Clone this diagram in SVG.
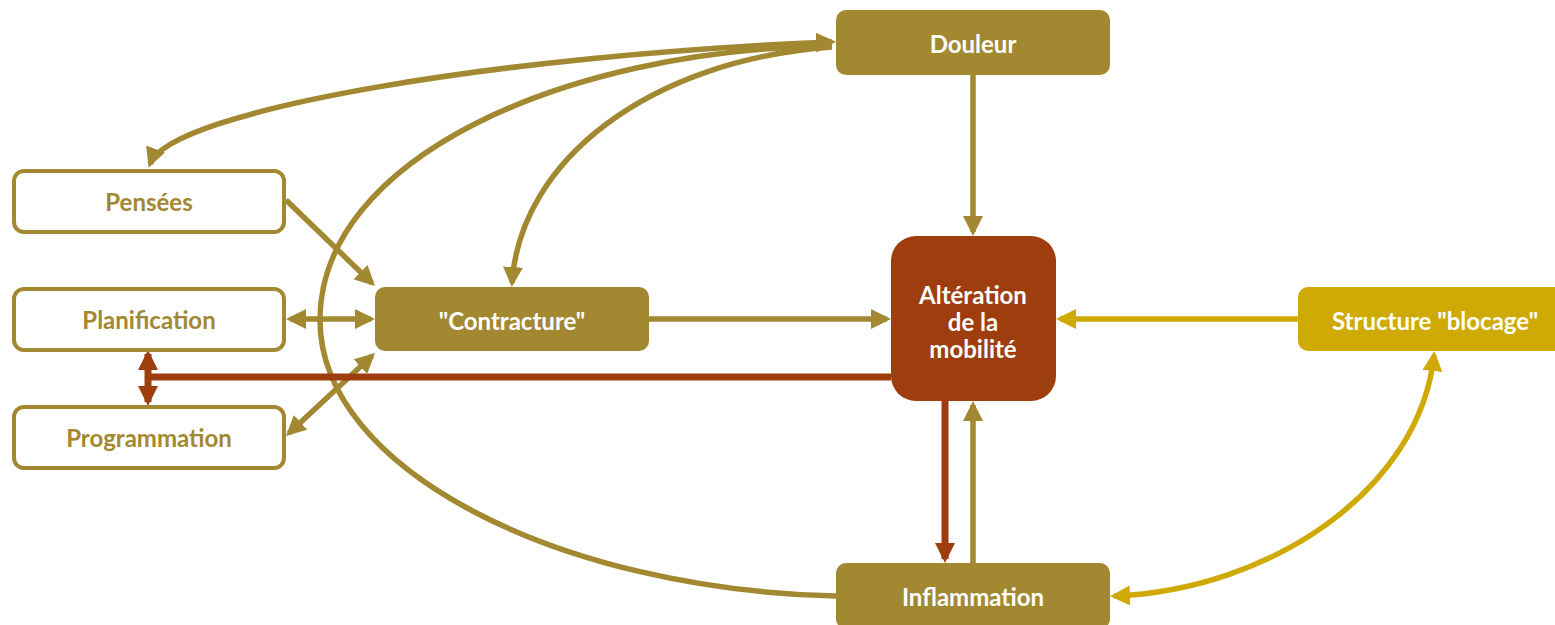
<svg xmlns="http://www.w3.org/2000/svg" width="1555" height="625" viewBox="0 0 1555 625">
<style>
.gold{fill:#A38832}
.outl{fill:#fff;stroke:#A38832;stroke-width:4}
.red{fill:#9E3D0E}
.yel{fill:#CFAA05}
text{font-family:Lato,"Liberation Sans",sans-serif;font-weight:bold;font-size:24px;text-anchor:middle;dominant-baseline:central}
.wt{fill:#fff}
.gt{fill:#A38832}
.cg{fill:none;stroke:#A38832;stroke-width:5.5}
.cr{fill:none;stroke:#9E3D0E;stroke-width:7}
.cy{fill:none;stroke:#CFAA05;stroke-width:5.5}
</style>
<defs>
<marker id="ag" viewBox="0 0 20 20" refX="16" refY="10" markerWidth="20" markerHeight="20" markerUnits="userSpaceOnUse" orient="auto-start-reverse"><path d="M0,0 L20,10 L0,20 z" fill="#A38832"/></marker>
<marker id="ar" viewBox="0 0 20 20" refX="16" refY="10" markerWidth="20" markerHeight="20" markerUnits="userSpaceOnUse" orient="auto-start-reverse"><path d="M0,0 L20,10 L0,20 z" fill="#9E3D0E"/></marker>
<marker id="ay" viewBox="0 0 20 20" refX="16" refY="10" markerWidth="20" markerHeight="20" markerUnits="userSpaceOnUse" orient="auto-start-reverse"><path d="M0,0 L20,10 L0,20 z" fill="#CFAA05"/></marker>
</defs>
<g id="connectors">
<path class="cg" d="M836 596 C560 590 320 470 320 320 C320 160 560 50 830 46"/>
<path class="cg" d="M150 164 C170 110 500 55 832 42" marker-start="url(#ag)" marker-end="url(#ag)"/>
<path class="cg" d="M832 47 C650 60 520 160 512 283" marker-end="url(#ag)"/>
<path class="cg" d="M286 200 L372.1 283.2" marker-end="url(#ag)"/>
<path class="cg" d="M290 319 L371 319" marker-start="url(#ag)" marker-end="url(#ag)"/>
<path class="cg" d="M288.9 433.3 L372.1 355.7" marker-start="url(#ag)" marker-end="url(#ag)"/>
<path class="cg" d="M649 319 L887 319" marker-end="url(#ag)"/>
<path class="cg" d="M973 75 L973 232" marker-end="url(#ag)"/>
<path class="cy" d="M1298 319 L1060 319" marker-end="url(#ay)"/>
<path class="cr" d="M891 377 L148 377"/>
<path class="cr" d="M148 354 L148 402" marker-start="url(#ar)" marker-end="url(#ar)"/>
<path class="cr" d="M945 401 L945 559" marker-end="url(#ar)"/>
<path class="cg" d="M973 563 L973 405" marker-end="url(#ag)"/>
<path class="cy" d="M1434 355 C1420 490 1270 590 1114 596" marker-start="url(#ay)" marker-end="url(#ay)"/>
</g>
<g id="douleur"><rect class="gold" x="836" y="10" width="274" height="65" rx="10"/><text class="wt" x="973" y="43">Douleur</text></g>
<g id="pensees"><rect class="outl" x="14" y="171" width="270" height="61" rx="10"/><text class="gt" x="149" y="201">Pensées</text></g>
<g id="planification"><rect class="outl" x="14" y="289" width="270" height="61" rx="10"/><text class="gt" x="149" y="319">Planification</text></g>
<g id="programmation"><rect class="outl" x="14" y="407" width="270" height="61" rx="10"/><text class="gt" x="149" y="437">Programmation</text></g>
<g id="contracture"><rect class="gold" x="375" y="287" width="274" height="64" rx="10"/><text class="wt" x="512" y="320">"Contracture"</text></g>
<g id="alteration"><rect class="red" x="891" y="236" width="165" height="165" rx="25"/><text class="wt" x="973" y="294">Altération</text><text class="wt" x="973" y="321">de la</text><text class="wt" x="973" y="348">mobilité</text></g>
<g id="structure"><rect class="yel" x="1298" y="287" width="274" height="64" rx="10"/><text class="wt" x="1435" y="320">Structure "blocage"</text></g>
<g id="inflammation"><rect class="gold" x="836" y="563" width="274" height="66" rx="10"/><text class="wt" x="973" y="596">Inflammation</text></g>
</svg>
